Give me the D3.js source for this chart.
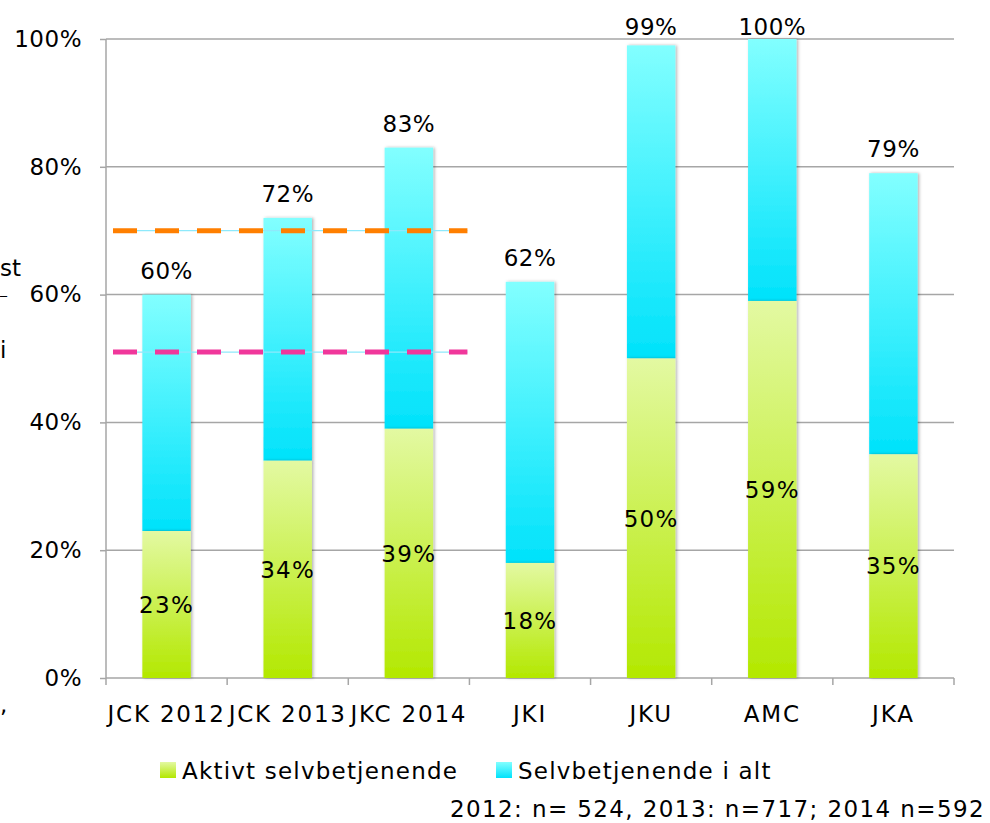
<!DOCTYPE html>
<html>
<head>
<meta charset="utf-8">
<script src="https://cdn.jsdelivr.net/npm/d3@7"></script>
<style>
  body { margin: 0; background: #fff; }
  svg text { font-family: "DejaVu Sans", Verdana, sans-serif; fill: #000; }
</style>
</head>
<body>
<svg width="990" height="823"></svg>
<script>
// categories and values (percent)
const categories = ["JCK 2012", "JCK 2013", "JKC 2014", "JKI", "JKU", "AMC", "JKA"]
const aktivt = [23, 34, 39, 18, 50, 59, 35]
const iAlt = [60, 72, 83, 62, 99, 100, 79]
const yTicks = [0, 20, 40, 60, 80, 100]
const seriesNames = ["Aktivt selvbetjenende", "Selvbetjenende i alt"]
const targetValues = [70, 51]
const targetColors = ["#ff7f00", "#f0379b"]
const footnote = "2012: n= 524, 2013: n=717; 2014 n=592"

const svg = d3.select("svg")
const margin = { top: 39, right: 36, bottom: 145, left: 106 }
const width = 990 - margin.left - margin.right
const height = 823 - margin.top - margin.bottom
const fs = 23

const defs = svg.append("defs")
const gGreen = defs.append("linearGradient").attr("id", "gGreen")
  .attr("x1", 0).attr("y1", 0).attr("x2", 0).attr("y2", 1)
gGreen.append("stop").attr("offset", "0%").attr("stop-color", "#e3f9a2")
gGreen.append("stop").attr("offset", "100%").attr("stop-color", "#b3e800")
const gCyan = defs.append("linearGradient").attr("id", "gCyan")
  .attr("x1", 0).attr("y1", 0).attr("x2", 0).attr("y2", 1)
gCyan.append("stop").attr("offset", "0%").attr("stop-color", "#82ffff")
gCyan.append("stop").attr("offset", "100%").attr("stop-color", "#00e2fb")
const shadow = defs.append("filter").attr("id", "shadow")
  .attr("x", "-20%").attr("y", "-5%").attr("width", "140%").attr("height", "110%")
shadow.append("feDropShadow").attr("dx", 1.5).attr("dy", 0).attr("stdDeviation", 1.5)
  .attr("flood-color", "#000").attr("flood-opacity", 0.3)

const g = svg.append("g").attr("transform", `translate(${margin.left},${margin.top})`)

const x = d3.scaleBand().domain(categories).range([0, width]).paddingInner(0.6).paddingOuter(0.3)
const band = d3.scaleBand().domain(categories).range([0, width])
const y = d3.scaleLinear().domain([0, 100]).range([height, 0])

// gridlines
g.append("g")
  .selectAll("line")
  .data(yTicks.filter((d) => d > 0))
  .join("line")
  .attr("x1", 0).attr("x2", width)
  .attr("y1", (d) => y(d)).attr("y2", (d) => y(d))
  .attr("stroke", "#a6a6a6").attr("stroke-width", 1.5)

// y axis
const yAxis = g.append("g")
  .call(d3.axisLeft(y).tickValues(yTicks).tickFormat((d) => d + "%").tickSize(6).tickPadding(18))
yAxis.select(".domain").attr("stroke", "#a6a6a6").attr("stroke-width", 1.5)
  .attr("d", `M0,${y(100)}V${height + 7}`)
yAxis.selectAll(".tick line").attr("stroke", "#a6a6a6").attr("stroke-width", 1.5)
yAxis.selectAll(".tick text").attr("font-size", fs).attr("font-family", "DejaVu Sans")
  .attr("letter-spacing", 0.5).attr("fill", "#000")

// x axis
g.append("line").attr("x1", 0).attr("x2", width).attr("y1", height).attr("y2", height)
  .attr("stroke", "#a6a6a6").attr("stroke-width", 1.5)
g.append("g").selectAll("line")
  .data(categories.slice(1).map((c) => band(c)).concat([width]))
  .join("line")
  .attr("x1", (d) => d).attr("x2", (d) => d)
  .attr("y1", height).attr("y2", height + 7)
  .attr("stroke", "#a6a6a6").attr("stroke-width", 1.5)
g.append("g").selectAll("text")
  .data(categories)
  .join("text")
  .attr("x", (d) => band(d) + band.bandwidth() / 2)
  .attr("y", height + 44)
  .attr("text-anchor", "middle")
  .attr("font-size", fs)
  .attr("letter-spacing", 1.8)
  .text((d) => d)

// bars
const bars = g.append("g").selectAll("g")
  .data(categories.map((c, i) => ({ c, a: aktivt[i], t: iAlt[i] })))
  .join("g")
bars.append("rect")
  .attr("x", (d) => x(d.c)).attr("width", x.bandwidth())
  .attr("y", (d) => y(d.t)).attr("height", (d) => y(d.a) - y(d.t))
  .attr("fill", "url(#gCyan)").attr("filter", "url(#shadow)")
bars.append("rect")
  .attr("x", (d) => x(d.c)).attr("width", x.bandwidth())
  .attr("y", (d) => y(d.a)).attr("height", (d) => height - y(d.a))
  .attr("fill", "url(#gGreen)").attr("filter", "url(#shadow)")

// target lines over the first three bars
const lx1 = band(categories[0]) + 7
const lx2 = band(categories[2]) + band.bandwidth() - 2
targetValues.forEach((v, i) => {
  g.append("line").attr("x1", lx1).attr("x2", lx2).attr("y1", y(v)).attr("y2", y(v))
    .attr("stroke", "#8ee9fb").attr("stroke-width", 1.2)
  g.append("line").attr("x1", lx1).attr("x2", lx2).attr("y1", y(v)).attr("y2", y(v))
    .attr("stroke", targetColors[i]).attr("stroke-width", 5)
    .attr("stroke-dasharray", "24 18")
})

// value labels
bars.append("text")
  .attr("x", (d) => x(d.c) + x.bandwidth() / 2)
  .attr("y", (d) => Math.max(y(d.t) - 16, -4))
  .attr("text-anchor", "middle").attr("font-size", fs)
  .attr("letter-spacing", 0.5)
  .text((d) => d.t + "%")
bars.append("text")
  .attr("x", (d) => x(d.c) + x.bandwidth() / 2)
  .attr("y", (d) => (y(d.a) + height) / 2)
  .attr("dy", "0.36em")
  .attr("text-anchor", "middle").attr("font-size", fs)
  .attr("letter-spacing", 1.3)
  .text((d) => d.a + "%")

// legend
const legend = svg.append("g").attr("transform", "translate(160,762)")
const legendX = [0, 336]
const legendFill = ["url(#gGreen)", "url(#gCyan)"]
seriesNames.forEach((name, i) => {
  legend.append("rect").attr("x", legendX[i]).attr("y", 0).attr("width", 16).attr("height", 16)
    .attr("fill", legendFill[i])
  legend.append("text").attr("x", legendX[i] + 22).attr("y", 17)
    .attr("font-size", fs).attr("letter-spacing", 1.2).text(name)
})

svg.append("text").attr("x", 985).attr("y", 817).attr("text-anchor", "end")
  .attr("font-size", fs).attr("letter-spacing", 1.4).text(footnote)

// axis title fragments at the left edge (the title is cut off in the original)
const leftBits = [["st", 276, fs], ["_", 294, 14], ["i", 358, fs], [",", 712, fs]]
svg.append("g").selectAll("text").data(leftBits).join("text")
  .attr("x", 0).attr("y", (d) => d[1])
  .attr("font-size", (d) => d[2])
  .text((d) => d[0])
</script>
</body>
</html>
